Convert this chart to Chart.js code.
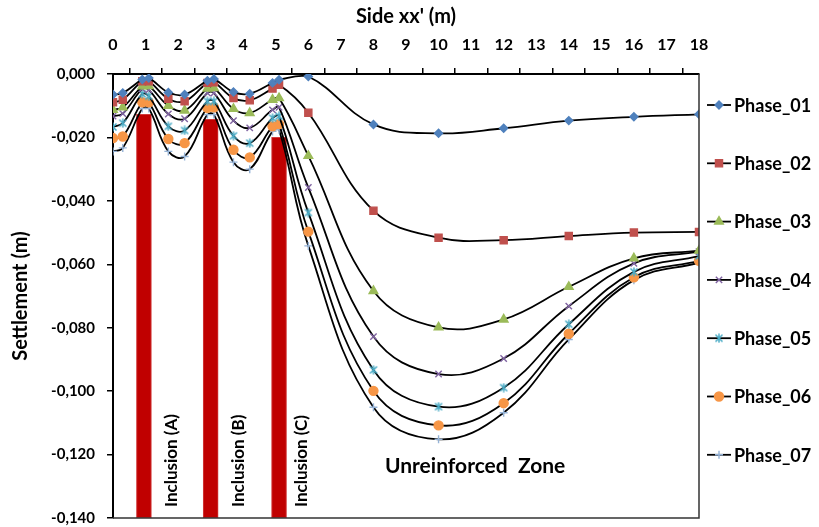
<!DOCTYPE html>
<html>
<head>
<meta charset="utf-8">
<script src="https://cdn.jsdelivr.net/npm/chart.js@4.4.0/dist/chart.umd.min.js"></script>
<style>
html, body { margin: 0; padding: 0; background: #fff; }
#wrap { width: 819px; height: 527px; }
</style>
</head>
<body>
<div id="wrap"><canvas id="chart"></canvas></div>
<script>
'use strict';

// distance along side xx' (m)
const positions = [0, 0.3, 0.9, 1.1, 1.7, 2.2, 2.9, 3.1, 3.7, 4.2, 4.9, 5.1, 6, 8, 10, 12, 14, 16, 18];

// settlement (m) per phase
const phase01 = [-0.0065, -0.0060, -0.0017, -0.0013, -0.0058, -0.0065, -0.0021, -0.0016, -0.0057, -0.0062, -0.0028, -0.0018, -0.0008, -0.0159, -0.0187, -0.0171, -0.0147, -0.0135, -0.0127];
const phase02 = [-0.0089, -0.0081, -0.0023, -0.0023, -0.0078, -0.0086, -0.0028, -0.0026, -0.0076, -0.0083, -0.0046, -0.0034, -0.0122, -0.0431, -0.0516, -0.0524, -0.0511, -0.0500, -0.0498];
const phase03 = [-0.0113, -0.0105, -0.0039, -0.0038, -0.0100, -0.0115, -0.0046, -0.0044, -0.0110, -0.0123, -0.0081, -0.0076, -0.0258, -0.0684, -0.0799, -0.0774, -0.0671, -0.0581, -0.0557];
const phase04 = [-0.0133, -0.0125, -0.0047, -0.0050, -0.0126, -0.0141, -0.0060, -0.0060, -0.0147, -0.0170, -0.0113, -0.0105, -0.0358, -0.0828, -0.0946, -0.0897, -0.0732, -0.0597, -0.0560];
const phase05 = [-0.0167, -0.0155, -0.0063, -0.0070, -0.0165, -0.0178, -0.0086, -0.0086, -0.0195, -0.0218, -0.0139, -0.0133, -0.0437, -0.0933, -0.1049, -0.0989, -0.0789, -0.0624, -0.0574];
const phase06 = [-0.0202, -0.0197, -0.0089, -0.0089, -0.0205, -0.0218, -0.0107, -0.0105, -0.0239, -0.0263, -0.0165, -0.0158, -0.0497, -0.0999, -0.1108, -0.1038, -0.0819, -0.0641, -0.0589];
const phase07 = [-0.0244, -0.0233, -0.0109, -0.0109, -0.0244, -0.0260, -0.0128, -0.0128, -0.0278, -0.0300, -0.0181, -0.0176, -0.0542, -0.1051, -0.1152, -0.1068, -0.0837, -0.0650, -0.0595];

// inclusions (red columns)
const inclusionX = [0.95, 3.0, 5.1];
const inclusionTop = [-0.0127, -0.0143, -0.0200];
const inclusionBase = -0.14;

const phaseNames = ['Phase_01', 'Phase_02', 'Phase_03', 'Phase_04', 'Phase_05', 'Phase_06', 'Phase_07'];
const phaseSeries = [phase01, phase02, phase03, phase04, phase05, phase06, phase07];
const markerColors = ['#4F81BD', '#C0504D', '#9BBB59', '#8064A2', '#4BACC6', '#F79646', '#95B3D7'];
const markerSizes = [4, 5, 5, 4.5, 4.5, 4.5, 4];

const FONT = 'Lato, "Open Sans", sans-serif';

// excel-like asterisk marker (x plus vertical bar)
function asterisk(color) {
    const c = document.createElement('canvas');
    c.width = 10;
    c.height = 10;
    const g = c.getContext('2d');
    g.strokeStyle = color;
    g.lineWidth = 1.5;
    g.beginPath();
    g.moveTo(1.5, 1.5); g.lineTo(8.5, 8.5);
    g.moveTo(8.5, 1.5); g.lineTo(1.5, 8.5);
    g.moveTo(5, 0.5); g.lineTo(5, 9.5);
    g.stroke();
    return c;
}

const markerStyles = ['rectRot', 'rect', 'triangle', 'crossRot', asterisk(markerColors[4]), 'circle', 'cross'];

function xy(values) {
    return values.map((v, i) => ({x: positions[i], y: v}));
}

const datasets = phaseSeries.map((values, i) => ({
    type: 'line',
    label: phaseNames[i],
    data: xy(values),
    borderColor: '#000',
    borderWidth: 1.8,
    tension: 0.4,
    fill: false,
    pointStyle: markerStyles[i],
    pointRadius: markerSizes[i],
    pointBackgroundColor: markerColors[i],
    pointBorderColor: markerColors[i],
    pointBorderWidth: 1.4,
    order: 1
}));

datasets.push({
    type: 'bar',
    label: 'Inclusions',
    data: inclusionX.map((x, i) => ({x: x, y: [inclusionBase, inclusionTop[i]]})),
    backgroundColor: '#C00000',
    borderColor: '#D23A3A',
    borderWidth: 1,
    borderSkipped: false,
    barThickness: 15,
    order: 10
});

const framePlugin = {
    id: 'frame',
    afterDraw(chart) {
        const a = chart.chartArea;
        const ctx = chart.ctx;
        ctx.save();
        ctx.strokeStyle = '#333';
        ctx.lineWidth = 1.5;
        ctx.beginPath();
        ctx.moveTo(a.right, a.top);
        ctx.lineTo(a.right, a.bottom);
        ctx.lineTo(a.left, a.bottom);
        ctx.stroke();
        ctx.restore();
    }
};

const notesPlugin = {
    id: 'notes',
    afterDatasetsDraw(chart) {
        const ctx = chart.ctx;
        ctx.save();
        ctx.fillStyle = '#000';
        ctx.font = 'bold 17px ' + FONT;
        ctx.textBaseline = 'middle';
        ctx.textAlign = 'left';
        [['Inclusion (A)', 172], ['Inclusion (B)', 239], ['Inclusion (C)', 302]].forEach(n => {
            ctx.save();
            ctx.translate(n[1], 507);
            ctx.rotate(-Math.PI / 2);
            ctx.fillText(n[0], 0, 0);
            ctx.restore();
        });
        ctx.font = 'bold 21px ' + FONT;
        ctx.fillText('Unreinforced  Zone', 385, 466);
        ctx.restore();
    }
};

const legendPlugin = {
    id: 'sideLegend',
    afterDraw(chart) {
        const ctx = chart.ctx;
        const x0 = 707, y0 = 105, step = 58.3;
        ctx.save();
        phaseNames.forEach((name, i) => {
            const y = y0 + i * step;
            ctx.strokeStyle = '#000';
            ctx.lineWidth = 1.8;
            ctx.beginPath();
            ctx.moveTo(x0, y);
            ctx.lineTo(x0 + 24, y);
            ctx.stroke();
            ctx.fillStyle = markerColors[i];
            ctx.strokeStyle = markerColors[i];
            ctx.lineWidth = 1.4;
            Chart.helpers.drawPoint(ctx, {
                pointStyle: markerStyles[i],
                radius: markerSizes[i],
                rotation: 0,
                borderWidth: 1.4
            }, x0 + 12, y);
            ctx.fillStyle = '#000';
            ctx.font = 'bold 18px ' + FONT;
            ctx.textBaseline = 'middle';
            ctx.textAlign = 'left';
            ctx.fillText(name, x0 + 27, y + 1);
        });
        ctx.restore();
    }
};

new Chart(document.getElementById('chart'), {
    type: 'line',
    data: {datasets: datasets},
    plugins: [framePlugin, notesPlugin, legendPlugin],
    options: {
        responsive: true,
        maintainAspectRatio: false,
        animation: false,
        layout: {padding: {left: 0, top: 0, right: 120, bottom: 9}},
        plugins: {
            legend: {display: false},
            tooltip: {enabled: false}
        },
        scales: {
            x: {
                type: 'linear',
                position: 'top',
                min: 0,
                max: 18,
                offset: false,
                afterFit: scale => {
                    scale.height = 74;
                    scale.paddingLeft = 0;
                    scale.paddingRight = 0;
                },
                ticks: {
                    stepSize: 1,
                    color: '#000',
                    padding: 14,
                    font: {family: FONT, size: 16, weight: 'bold'}
                },
                grid: {drawOnChartArea: false, color: '#000', lineWidth: 1.5, tickLength: 6},
                border: {color: '#000', width: 2},
                title: {
                    display: true,
                    text: "Side xx' (m)",
                    color: '#000',
                    padding: {top: 5, bottom: 0},
                    font: {family: FONT, size: 20, weight: 'bold'}
                }
            },
            y: {
                type: 'linear',
                min: -0.14,
                max: 0,
                afterFit: scale => {
                    scale.width = 113;
                    scale.paddingTop = 0;
                    scale.paddingBottom = 0;
                },
                ticks: {
                    stepSize: 0.02,
                    color: '#000',
                    padding: 12,
                    font: {family: FONT, size: 15, weight: 'bold'},
                    callback: v => (Math.abs(v) < 1e-9 ? 0 : v).toFixed(3).replace('.', ',')
                },
                grid: {drawOnChartArea: false, color: '#000', lineWidth: 1.5, tickLength: 6},
                border: {color: '#000', width: 2},
                title: {
                    display: true,
                    text: 'Settlement (m)',
                    color: '#000',
                    padding: {top: 9, bottom: 0},
                    font: {family: FONT, size: 20, weight: 'bold'}
                }
            }
        }
    }
});
</script>
</body>
</html>
